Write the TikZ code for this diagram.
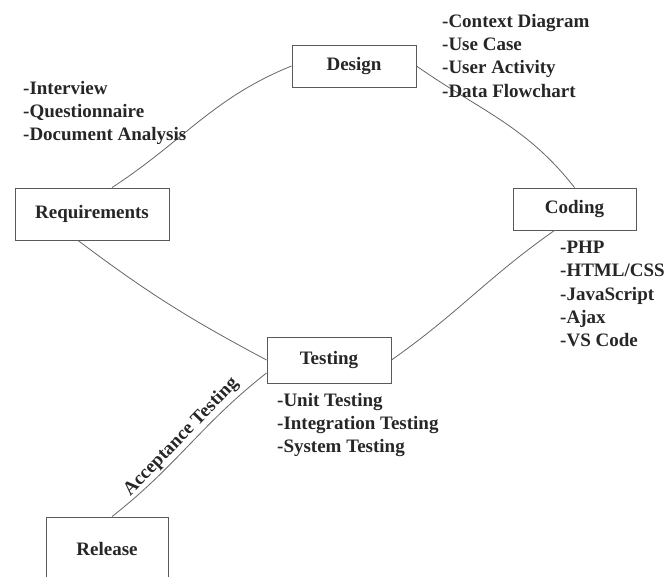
\documentclass[tikz,border=0pt]{standalone}
\usepackage{fontspec}
\setmainfont{Liberation Serif}
\begin{document}
\begin{tikzpicture}[x=1pt,y=1pt,
  phase/.style={draw=black!65,line width=0.9pt,fill=white,inner sep=0pt,
    font=\fontsize{19}{23.3}\selectfont\bfseries,text=black!85},
  notes/.style={anchor=north west,align=left,inner sep=0pt,
    font=\fontsize{19}{23.3}\selectfont\bfseries,text=black!85},
  link/.style={draw=black!60,line width=0.8pt}]
\useasboundingbox (0,0) rectangle (667,-577);
\clip (0,0) rectangle (667,-577);
\node[phase,minimum width=154pt,minimum height=52pt] (req) at (92,-214) {Requirements};
\node[phase,minimum width=124pt,minimum height=42pt] (des) at (354,-66) {Design};
\node[phase,minimum width=123pt,minimum height=42pt] (cod) at (574.5,-209) {Coding};
\node[phase,minimum width=124pt,minimum height=46pt] (tst) at (329,-360) {Testing};
\node[phase,minimum width=122pt,minimum height=64pt] (rel) at (107,-549) {Release};
\draw[link] ([xshift=20pt]req.north) to[out=33,in=202] (des.west);
\draw[link] (des.east) to[out=-35,in=128] (cod.north);
\draw[link] ([xshift=-14pt]req.south) to[out=-37,in=152] (tst.west);
\draw[link] ([xshift=-20pt]cod.south) to[out=215,in=35] (tst.east);
\draw[link] ([xshift=5pt]rel.north) to[out=38,in=218]
  node[midway,sloped,above,inner sep=2pt,font=\fontsize{19}{23.3}\selectfont\bfseries,text=black!85] {Acceptance Testing}
  ([yshift=-13pt]tst.west);
\node[notes] (reqnotes) at (23,-81) {-Interview\\-Questionnaire\\-Document Analysis};
\node[notes] (desnotes) at (442,-14) {-Context Diagram\\-Use Case\\-User Activity\\-Data Flowchart};
\node[notes] (codnotes) at (560,-241) {-PHP\\-HTML/CSS\\-JavaScript\\-Ajax\\-VS Code};
\node[notes] (tstnotes) at (277,-393) {-Unit Testing\\-Integration Testing\\-System Testing};
\end{tikzpicture}
\end{document}
